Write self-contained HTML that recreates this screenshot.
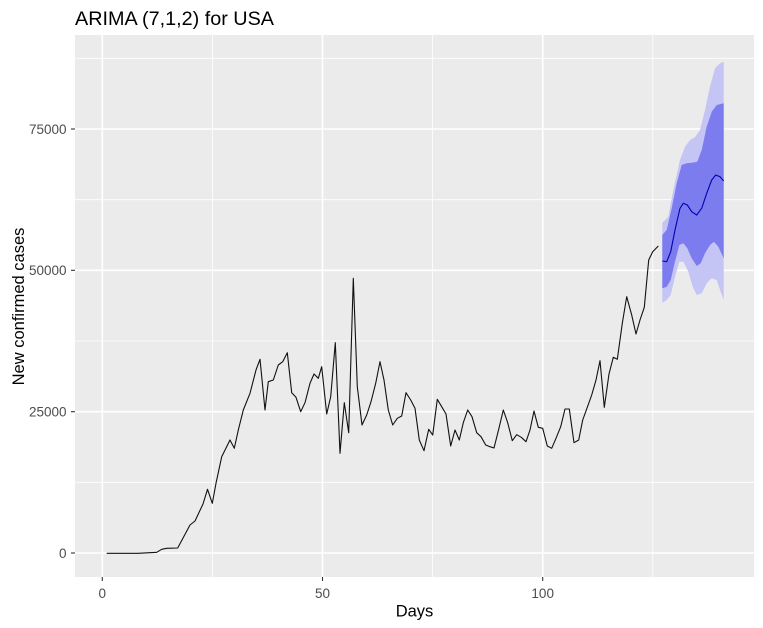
<!DOCTYPE html>
<html><head><meta charset="utf-8"><style>
html,body{margin:0;padding:0;background:#fff;}
svg{display:block;}
text{font-family:"Liberation Sans",Arial,sans-serif;}
</style></head><body>
<svg width="763" height="628" viewBox="0 0 763 628" xmlns="http://www.w3.org/2000/svg">
<rect x="0" y="0" width="763" height="628" fill="#fff"/>
<text x="75" y="25" font-size="19.8" fill="#000">ARIMA (7,1,2) for USA</text>
<rect x="75" y="35" width="679" height="542" fill="#EBEBEB"/>
<!-- minor grid -->
<g stroke="#fff" stroke-width="0.8">
<line x1="75" x2="754" y1="482.3" y2="482.3"/>
<line x1="75" x2="754" y1="341" y2="341"/>
<line x1="75" x2="754" y1="199.7" y2="199.7"/>
<line x1="75" x2="754" y1="58.3" y2="58.3"/>
<line y1="35" y2="577" x1="212.4" x2="212.4"/>
<line y1="35" y2="577" x1="432.6" x2="432.6"/>
<line y1="35" y2="577" x1="652.8" x2="652.8"/>
</g>
<!-- major grid -->
<g stroke="#fff" stroke-width="1.6">
<line x1="75" x2="754" y1="553" y2="553"/>
<line x1="75" x2="754" y1="411.7" y2="411.7"/>
<line x1="75" x2="754" y1="270.3" y2="270.3"/>
<line x1="75" x2="754" y1="129" y2="129"/>
<line y1="35" y2="577" x1="102.3" x2="102.3"/>
<line y1="35" y2="577" x1="322.5" x2="322.5"/>
<line y1="35" y2="577" x1="542.7" x2="542.7"/>
</g>
<!-- 95% band -->
<polygon fill="#C4C4F5" points="662.3,222.7 668.3,216.7 673.3,190 680,160 685,146.7 690,140 695,137.3 700,130 705,110 710,86.7 715,68.3 720,63.3 723.7,61.7 723.7,300 720.7,291.7 716.7,280 711.7,278.3 706.7,283.3 701.7,293.3 696.7,295 692.7,286.7 688.3,271.7 683.3,261.7 679.3,261.7 675,276.7 670.7,295 666.7,300 662.3,302.7"/>
<!-- 80% band -->
<polygon fill="#7C7CEE" points="662.3,235 666.7,230 671.7,208.3 676.7,183.3 681.7,165 686.7,163.3 691.7,162.7 697.3,161.7 701.7,150 706.7,126.7 711.7,111.7 716.7,105 723.7,103.3 723.7,258.3 718.3,246.7 714,241.7 710,245 705,253.3 700.7,263.3 696.7,266 691.7,258.3 687.3,248.3 683.3,243.3 679.3,245 675,261.7 670.7,280 666.7,286.7 662.3,288.3"/>
<!-- mean -->
<polyline fill="none" stroke="#0000B4" stroke-width="1.1" points="662.3,261 666.7,261.7 670.7,251.7 675,230 680,208.3 683.3,203.3 687.3,205 691.7,211.7 696.7,215 701.7,208.3 706.7,193.3 711.7,180 715.7,175 720,176.7 723.7,181"/>
<!-- series -->
<polyline fill="none" stroke="#111" stroke-width="1.1" stroke-linejoin="round" points="106.7,553.3 138,553.3 156.7,552.3 161.7,549.3 166.7,548.3 177.7,548 190,525 195,521 203,504 207.5,489.3 212.3,503.3 216,483.3 221.7,456.7 230,440 234.3,448.3 238.3,430 243.3,410 250,393.3 256,370 260,359.3 265,410 268.3,381.7 273.3,380 278.3,365 282.7,361.7 287.3,352.7 291.7,392.7 296,397.3 300.7,411.7 305,402.7 310,383.3 314,374 318.3,378.3 321.7,366.7 326.7,414 330.7,396.7 335.3,342.7 340,453.3 344.3,402.7 348.7,432.7 353.3,278.3 357.3,386.7 362,425 366.7,415 371,401.7 375.7,383.3 380,361.7 384,380 388.3,410 392.7,425 397.3,418.3 401.7,416 406,392.7 410.7,400 415,408.3 419.3,440 424,450.7 428.7,429.3 432.7,435 437.3,399.3 441.7,406.7 446,414 450.7,446 455,430 459.3,440 463.3,422.7 467.7,410 472,416.7 476.7,432.7 481,436.7 485.7,445 490,446.7 494,448 498.7,429.3 503.3,410 507.7,422.7 512.3,440.7 516.7,434.7 521.3,437.3 526,441.7 530,430 534,411 538.3,427.3 542.7,428.3 547.3,446 551.7,448.3 556,438.3 560.7,426.7 565,409 569.3,409 574,442.7 578.7,440 582.7,420 587.3,407.3 591.7,395 596,380 600,360.7 604.3,407.3 609,374 613.3,357.3 617.3,359.3 622.3,323.3 626.7,296.7 631.7,315 636,334 640,320 644.3,307.3 648.7,260 652.7,251.7 658.3,246"/>
<!-- ticks -->
<g stroke="#333" stroke-width="1.1">
<line x1="71" x2="75" y1="553" y2="553"/>
<line x1="71" x2="75" y1="411.7" y2="411.7"/>
<line x1="71" x2="75" y1="270.3" y2="270.3"/>
<line x1="71" x2="75" y1="129" y2="129"/>
<line y1="577" y2="581" x1="102.3" x2="102.3"/>
<line y1="577" y2="581" x1="322.5" x2="322.5"/>
<line y1="577" y2="581" x1="542.7" x2="542.7"/>
</g>
<g font-size="13.5" fill="#4D4D4D" text-anchor="end">
<text x="66.5" y="557.8">0</text>
<text x="66.5" y="416.5">25000</text>
<text x="66.5" y="275.1">50000</text>
<text x="66.5" y="133.8">75000</text>
</g>
<g font-size="13.5" fill="#4D4D4D" text-anchor="middle">
<text x="102.3" y="598">0</text>
<text x="322.5" y="598">50</text>
<text x="542.7" y="598">100</text>
</g>
<text x="414.5" y="616.5" font-size="16.5" fill="#000" text-anchor="middle">Days</text>
<text transform="translate(24,306.5) rotate(-90)" font-size="16.5" fill="#000" text-anchor="middle">New confirmed cases</text>
</svg>
</body></html>
